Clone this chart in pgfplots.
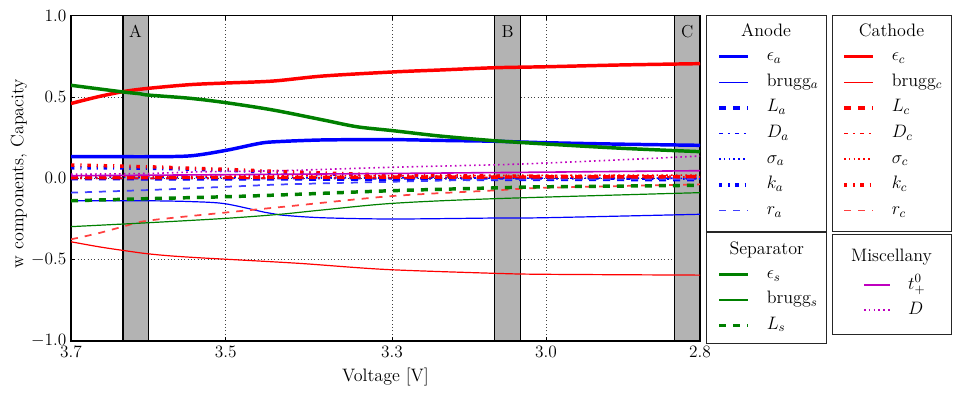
\documentclass[border=0pt]{standalone}
\usepackage{fix-cm}
\usepackage{pgfplots}
\pgfplotsset{compat=1.18}
\definecolor{mplgreen}{RGB}{0,128,0}
\definecolor{mplmag}{RGB}{191,0,191}
\definecolor{bandgray}{RGB}{179,179,179}

\tikzset{
  seps/.style={draw=#1, color=#1, line width=2.6pt, solid},
  sbrugg/.style={draw=#1, color=#1, line width=0.9pt, solid},
  stp/.style={draw=#1, color=#1, line width=1.2pt, solid},
  sL/.style={draw=#1, color=#1, line width=2.6pt, dash pattern=on 5.25pt off 5.25pt},
  sD/.style={draw=#1, color=#1, line width=1.3pt, dash pattern=on 3pt off 3.8pt on 1.3pt off 3.8pt},
  ssig/.style={draw=#1, color=#1, line width=1.2pt, dash pattern=on 1.2pt off 2.4pt},
  sk/.style={draw=#1, color=#1, line width=2.6pt, dash pattern=on 2.6pt off 4.4pt on 0.875pt off 4.4pt},
  sr/.style={draw=#1!75!white, color=#1!75!white, line width=1.3pt, dash pattern=on 5.25pt off 5.25pt},
}
\pgfplotsset{
  legendaxis/.style={
    at={(0pt,0pt)}, anchor=south west,
    scale only axis, width=471.75pt, height=244pt,
    hide axis, xmin=0, xmax=1, ymin=0, ymax=1,
    legend cell align=left,
    legend image code/.code={\draw[##1] (0pt,0pt) -- (21.5pt,0pt);},
    legend style={draw=none, fill=none, inner sep=0pt, column sep=13pt, anchor=north west,
      nodes={inner sep=0pt, text height=9pt, text depth=3pt, font=\fontsize{13.5}{15}\selectfont}},
  },
}

\begin{document}
\begin{tikzpicture}
\useasboundingbox (-53.25pt,-39pt) rectangle (666pt,255.75pt);

\begin{axis}[
  at={(0pt,0pt)}, anchor=south west,
  scale only axis, width=471.75pt, height=244pt,
  xmin=0, xmax=629, ymin=-1, ymax=1,
  xtick={0,154.7,321,475,629},
  xticklabels={3.7,3.5,3.3,3.0,2.8},
  ytick={-1,-0.5,0,0.5,1},
  y tick label style={/pgf/number format/.cd, fixed, fixed zerofill, precision=1, /tikz/.cd},
  tick label style={font=\fontsize{13}{15}\selectfont},
  grid=major,
  major grid style={black!75, line width=0.5pt, dash pattern=on 0.6pt off 1.9pt},
  tick align=inside, major tick length=3pt,
  axis line style={line width=0.8pt},
  every tick/.style={black, line width=0.6pt},
  no markers,
  xlabel={Voltage [V]}, ylabel={w components, Capacity},
  label style={font=\fontsize{13.5}{16}\selectfont},
  xlabel style={at={(axis description cs:0.5,-0.11)}, anchor=center},
  ylabel style={at={(axis description cs:-0.0827,0.515)}, anchor=center},
]
% shaded bands
\addplot[fill=bandgray, draw=black, line width=0.8pt] coordinates {(52,-1) (77.3,-1) (77.3,1) (52,1)} -- cycle;
\addplot[fill=bandgray, draw=black, line width=0.8pt] coordinates {(423.7,-1) (449.3,-1) (449.3,1) (423.7,1)} -- cycle;
\addplot[fill=bandgray, draw=black, line width=0.8pt] coordinates {(603.7,-1) (629,-1) (629,1) (603.7,1)} -- cycle;
\node[anchor=base, font=\fontsize{13}{15}\selectfont] at (axis cs:64.5,0.867) {A};
\node[anchor=base, font=\fontsize{13}{15}\selectfont] at (axis cs:436.5,0.867) {B};
\node[anchor=base, font=\fontsize{13}{15}\selectfont] at (axis cs:616.3,0.867) {C};

% anode
\addplot[seps=blue, smooth] coordinates {(0,0.133) (52,0.133) (77,0.133) (119,0.138) (155,0.172) (186,0.212) (202,0.224) (252,0.236) (322,0.238) (369,0.233) (424,0.228) (475,0.219) (550,0.21) (629,0.203)};
\addplot[sbrugg=blue, smooth] coordinates {(0,-0.138) (77,-0.138) (120,-0.143) (154,-0.156) (194,-0.209) (209,-0.225) (250,-0.242) (321,-0.25) (424,-0.244) (475,-0.242) (629,-0.221)};
\addplot[sL=blue] coordinates {(0,-0.002) (321,-0.005) (629,-0.008)};
\addplot[sD=blue] coordinates {(0,0.0) (321,-0.002) (629,-0.004)};
\addplot[ssig=blue] coordinates {(0,0.006) (321,0.003) (629,0.0)};
\addplot[sk=blue, smooth] coordinates {(0,0.065) (77,0.062) (155,0.05) (214,0.035) (321,0.018) (429,0.01) (629,0.003)};
\addplot[sr=blue, smooth] coordinates {(0,-0.088) (77,-0.072) (155,-0.052) (214,-0.037) (321,-0.021) (429,-0.008) (629,-0.004)};

% cathode
\addplot[seps=red, smooth] coordinates {(0,0.46) (26,0.5) (52,0.533) (77,0.553) (119,0.576) (155,0.586) (202,0.598) (252,0.629) (322,0.654) (369,0.666) (424,0.68) (475,0.686) (550,0.697) (629,0.705)};
\addplot[sbrugg=red, smooth] coordinates {(0,-0.39) (30,-0.423) (61,-0.451) (77,-0.464) (100,-0.477) (130,-0.489) (154,-0.497) (229,-0.523) (314,-0.56) (424,-0.584) (475,-0.59) (629,-0.595)};
\addplot[sL=red] coordinates {(0,0.004) (321,0.007) (629,0.01)};
\addplot[sD=red] coordinates {(0,0.0) (321,0.004) (629,0.008)};
\addplot[ssig=red] coordinates {(0,0.012) (321,0.016) (629,0.02)};
\addplot[sk=red, smooth] coordinates {(0,0.082) (77,0.071) (155,0.055) (214,0.041) (321,0.02) (429,0.014) (629,0.01)};
\addplot[sr=red, smooth] coordinates {(0,-0.375) (27,-0.338) (52,-0.297) (77,-0.26) (155,-0.21) (214,-0.174) (321,-0.109) (424,-0.074) (475,-0.058) (629,-0.037)};

% separator
\addplot[seps=mplgreen, smooth] coordinates {(0,0.572) (52,0.531) (69,0.52) (77,0.512) (119,0.492) (155,0.465) (202,0.42) (252,0.359) (286,0.317) (322,0.293) (369,0.26) (424,0.231) (475,0.211) (550,0.185) (629,0.164)};
\addplot[sbrugg=mplgreen, smooth] coordinates {(0,-0.297) (77,-0.273) (155,-0.246) (209,-0.221) (249,-0.196) (321,-0.154) (424,-0.125) (629,-0.088)};
\addplot[sL=mplgreen, smooth] coordinates {(0,-0.138) (52,-0.129) (77,-0.125) (155,-0.113) (214,-0.101) (321,-0.076) (429,-0.058) (475,-0.052) (629,-0.043)};

% miscellany
\addplot[stp=mplmag, smooth] coordinates {(0,0.016) (214,0.025) (419,0.035) (629,0.047)};
\addplot[ssig=mplmag, smooth] coordinates {(0,0.025) (77,0.03) (130,0.04) (209,0.047) (321,0.068) (429,0.084) (475,0.094) (550,0.114) (629,0.137)};
\end{axis}

% legends
\begin{axis}[legendaxis, legend style={at={(1.02703,0.89959)}, row sep=7.25pt}]
\addlegendimage{seps=blue}\addlegendentry{$\epsilon_a$}
\addlegendimage{sbrugg=blue}\addlegendentry{brugg$_a$}
\addlegendimage{sL=blue}\addlegendentry{$L_a$}
\addlegendimage{sD=blue}\addlegendentry{$D_a$}
\addlegendimage{ssig=blue}\addlegendentry{$\sigma_a$}
\addlegendimage{sk=blue}\addlegendentry{$k_a$}
\addlegendimage{sr=blue}\addlegendentry{$r_a$}
\end{axis}
\begin{axis}[legendaxis, legend style={at={(1.22575,0.89959)}, row sep=7.25pt}]
\addlegendimage{seps=red}\addlegendentry{$\epsilon_c$}
\addlegendimage{sbrugg=red}\addlegendentry{brugg$_c$}
\addlegendimage{sL=red}\addlegendentry{$L_c$}
\addlegendimage{sD=red}\addlegendentry{$D_c$}
\addlegendimage{ssig=red}\addlegendentry{$\sigma_c$}
\addlegendimage{sk=red}\addlegendentry{$k_c$}
\addlegendimage{sr=red}\addlegendentry{$r_c$}
\end{axis}
\begin{axis}[legendaxis, legend style={at={(1.02703,0.22951)}, row sep=7pt}]
\addlegendimage{seps=mplgreen}\addlegendentry{$\epsilon_s$}
\addlegendimage{sbrugg=mplgreen}\addlegendentry{brugg$_s$}
\addlegendimage{sL=mplgreen}\addlegendentry{$L_s$}
\end{axis}
\begin{axis}[legendaxis, legend image code/.code={\draw[#1] (0pt,0pt) -- (19.5pt,0pt);},
  legend style={at={(1.25914,0.19672)}, row sep=6.75pt}]
\addlegendimage{stp=mplmag}\addlegendentry{$t_+^0$}
\addlegendimage{ssig=mplmag}\addlegendentry{$D$}
\end{axis}

% legend frames and titles
\begin{scope}[line width=0.75pt, draw=black!85]
\draw (476.25pt,82.5pt) rectangle (566.25pt,244pt);
\draw (570.75pt,82.5pt) rectangle (660pt,244pt);
\draw (476.25pt,-1.7pt) rectangle (566.25pt,81.5pt);
\draw (570.75pt,5pt) rectangle (660pt,80.25pt);
\end{scope}
\begin{scope}[every node/.style={anchor=base, font=\fontsize{13.5}{15}\selectfont}]
\node at (521.25pt,228.2pt) {Anode};
\node at (615.4pt,228.2pt) {Cathode};
\node at (521.8pt,65.25pt) {Separator};
\node at (615.4pt,59.5pt) {Miscellany};
\end{scope}
\end{tikzpicture}
\end{document}
